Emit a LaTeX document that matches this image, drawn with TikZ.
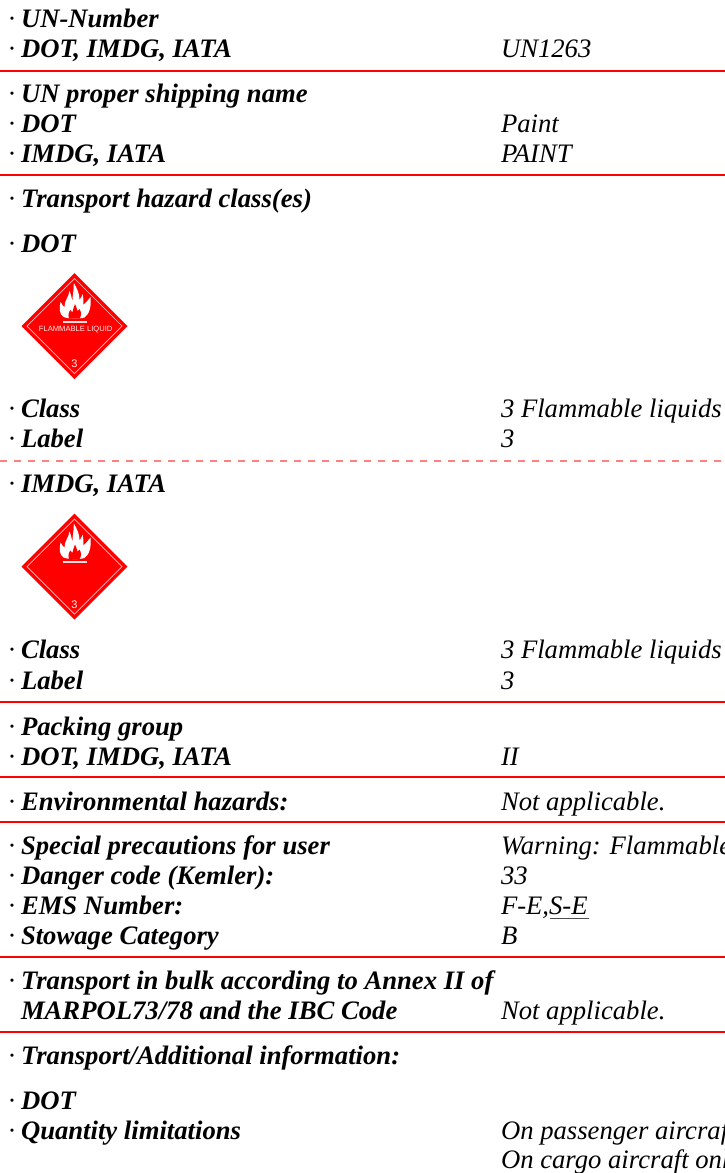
\documentclass[tikz,border=0pt]{standalone}
\usepackage{fontspec}
\setmainfont{Liberation Serif}
\newfontfamily\signfont{Liberation Sans}
\newcommand{\bul}{\llap{\normalfont\itshape ·\hspace{6pt}}}
\tikzset{
  x=1pt,y=-1pt,
  lab/.style={anchor=base west,inner sep=0pt,outer sep=0pt,font=\fontsize{26.67}{30}\selectfont\bfseries\itshape},
  val/.style={anchor=base west,inner sep=0pt,outer sep=0pt,font=\fontsize{26.67}{30}\selectfont\itshape},
  rule/.style={draw=red,line width=1.6pt},
  softrule/.style={draw=red!50,line width=1.4pt,dash pattern=on 7pt off 7pt},
  signtext/.style={inner sep=0pt,text=white!92!red,font=\signfont\fontsize{7.6}{9}\selectfont},
  signnum/.style={inner sep=0pt,text=white!92!red,font=\signfont\fontsize{11}{12}\selectfont},
  hazdiamond/.pic={
    \fill[red] (0,-53) -- (53,0) -- (0,53) -- (-53,0) -- cycle;
    \draw[white!75!red,line width=0.7pt] (0,-47.5) -- (47.5,0) -- (0,47.5) -- (-47.5,0) -- cycle;
    \fill[white] (-11,-9) .. controls (-15,-12) and (-15.5,-17) .. (-14,-24)
      .. controls (-12.5,-21) and (-11,-20) .. (-10,-19)
      .. controls (-10,-26) and (-6,-28) .. (-5,-35)
      .. controls (-3,-31) and (-3,-27) .. (-2,-25)
      .. controls (-2,-31) and (-0.5,-36) .. (-0.7,-43)
      .. controls (3,-37) and (5,-32) .. (5,-26)
      .. controls (7,-29) and (8,-31) .. (8,-32)
      .. controls (9,-28) and (9,-25) .. (9,-21)
      .. controls (11,-23) and (13,-25) .. (16,-29)
      .. controls (17,-20) and (15,-12) .. (10,-8.5)
      .. controls (5,-7) and (-6,-7) .. (-11,-9) -- cycle;
    \fill[red] (-5.5,-7.5) .. controls (-7,-12) and (-5,-15) .. (-4,-16)
      .. controls (-3,-14) and (-2.5,-14) .. (-2,-14)
      .. controls (-2,-17) and (0,-19) .. (0.5,-22)
      .. controls (1.5,-19) and (3,-17) .. (3,-15)
      .. controls (4,-15.5) and (4.5,-16) .. (5,-17)
      .. controls (7,-14) and (7,-10) .. (5,-7.5) -- cycle;
    \fill[white!88!red] (-11.5,-5.2) rectangle (12.5,-3.5);
  }
}
\begin{document}
\begin{tikzpicture}
\useasboundingbox (0,0) rectangle (725,1173);
\clip (0,0) rectangle (725,1173);
\fill[white] (0,0) rectangle (725,1173);
% rules
\coordinate (r1a) at (0,71);   \coordinate (r1b) at (725,71);
\coordinate (r2a) at (0,175);  \coordinate (r2b) at (725,175);
\coordinate (r3a) at (0,461);  \coordinate (r3b) at (725,461);
\coordinate (r4a) at (0,702);  \coordinate (r4b) at (725,702);
\coordinate (r5a) at (0,777);  \coordinate (r5b) at (725,777);
\coordinate (r6a) at (0,822);  \coordinate (r6b) at (725,822);
\coordinate (r7a) at (0,957);  \coordinate (r7b) at (725,957);
\coordinate (r8a) at (0,1032); \coordinate (r8b) at (725,1032);
\draw[rule] (r1a) -- (r1b);
\draw[rule] (r2a) -- (r2b);
\draw[softrule] (r3a) -- (r3b);
\draw[rule] (r4a) -- (r4b);
\draw[rule] (r5a) -- (r5b);
\draw[rule] (r6a) -- (r6b);
\draw[rule] (r7a) -- (r7b);
\draw[rule] (r8a) -- (r8b);
% signs
\pic (signa) at (74.5,326) {hazdiamond};
\node[signtext] (signatext) at (75.7,330) {FLAMMABLE LIQUID};
\node[signnum] (signanum) at (74.5,364) {3};
\pic (signb) at (74.5,566.5) {hazdiamond};
\node[signnum] (signbnum) at (74.5,605) {3};
% labels
\node[lab] (l1) at (21,27) {\bul UN-Number};
\node[lab] (l2) at (21,57.5) {\bul DOT, IMDG, IATA};
\node[val] (v2) at (501,57.5) {UN1263};
\node[lab] (l3) at (21,102.5) {\bul UN proper shipping name};
\node[lab] (l4) at (21,132) {\bul DOT};
\node[val] (v4) at (501,132) {Paint};
\node[lab] (l5) at (21,162) {\bul IMDG, IATA};
\node[val] (v5) at (501,162) {PAINT};
\node[lab] (l6) at (21,207) {\bul Transport hazard class(es)};
\node[lab] (l7) at (21,252.5) {\bul DOT};
\node[lab] (l8) at (21,417) {\bul Class};
\node[val] (v8) at (501,417) {3 Flammable liquids};
\node[lab] (l9) at (21,447.5) {\bul Label};
\node[val] (v9) at (501,447.5) {3};
\node[lab] (l10) at (21,492.5) {\bul IMDG, IATA};
\node[lab] (l11) at (21,658) {\bul Class};
\node[val] (v11) at (501,658) {3 Flammable liquids};
\node[lab] (l12) at (21,689) {\bul Label};
\node[val] (v12) at (501,689) {3};
\node[lab] (l13) at (21,735) {\bul Packing group};
\node[lab] (l14) at (21,765) {\bul DOT, IMDG, IATA};
\node[val] (v14) at (501,765) {II};
\node[lab] (l15) at (21,810) {\bul Environmental hazards:};
\node[val] (v15) at (501,810) {Not applicable.};
\node[lab] (l16) at (21,854) {\bul Special precautions for user};
\node[val] (v16) at (501,854) {Warning: Flammable};
\node[lab] (l17) at (21,884) {\bul Danger code (Kemler):};
\node[val] (v17) at (501,884) {33};
\node[lab] (l18) at (21,914) {\bul EMS Number:};
\node[val] (v18) at (501,914) {F-E,S-E};
\node[lab] (l19) at (21,944) {\bul Stowage Category};
\node[val] (v19) at (501,944) {B};
\node[lab] (l20) at (21,989.5) {\bul Transport in bulk according to Annex II of};
\node[lab] (l21) at (21,1019.5) {MARPOL73/78 and the IBC Code};
\node[val] (v21) at (501,1019.5) {Not applicable.};
\node[lab] (l22) at (21,1064.5) {\bul Transport/Additional information:};
\node[lab] (l23) at (21,1109) {\bul DOT};
\node[lab] (l24) at (21,1139) {\bul Quantity limitations};
\node[val] (v24) at (501,1139) {On passenger aircraft};
\node[val] (v25) at (501,1168) {On cargo aircraft only};
\coordinate (ua) at (550,918.7);
\coordinate (ub) at (589,918.7);
\draw[black!70,line width=0.8pt] (ua) -- (ub);
\end{tikzpicture}
\end{document}
